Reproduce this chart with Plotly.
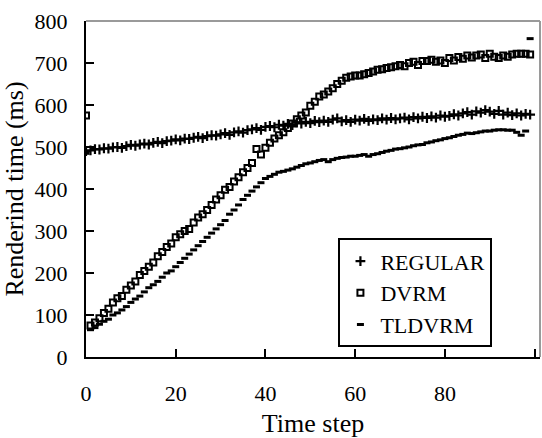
import plotly.graph_objects as go

time_steps = list(range(100))

regular = [490, 492, 495, 494, 497, 496, 499, 500, 498, 502,
           505, 503, 506, 508, 506, 510, 512, 509, 514, 515,
           518, 516, 520, 519, 522, 524, 521, 526, 528, 527,
           530, 533, 529, 535, 537, 534, 540, 542, 545, 541,
           548, 550, 547, 553, 551, 555, 552, 558, 556, 560,
           557, 562, 559, 563, 560, 565, 568, 561, 564, 560,
           565, 563, 567, 562, 566, 564, 568, 565, 569, 566,
           568, 570, 566, 571, 568, 572, 569, 573, 570, 575,
           572, 574, 578, 575, 580, 583, 577, 585, 582, 588,
           584, 579, 586, 577, 582, 576, 580, 575, 579, 577]

dvrm = [575, 75, 82, 92, 105, 115, 130, 140, 145, 160,
        170, 180, 195, 205, 215, 225, 240, 250, 262, 270,
        285, 292, 300, 305, 320, 332, 340, 350, 362, 375,
        385, 398, 405, 418, 428, 440, 450, 462, 495, 482,
        498, 510, 520, 528, 535, 545, 556, 566, 575, 582,
        598, 608, 620, 625, 632, 640, 650, 658, 665, 668,
        670, 670, 673, 676, 680, 684, 685, 688, 690, 692,
        695, 692, 700, 703, 695, 705, 705, 708, 703, 706,
        700, 712, 706, 714, 710, 718, 713, 718, 720, 712,
        722, 715, 712, 718, 715, 720, 722, 722, 722, 720]

tldvrm = [485, 65, 70, 78, 85, 90, 100, 105, 112, 120,
          130, 138, 145, 155, 165, 172, 180, 190, 200, 205,
          215, 225, 235, 245, 255, 265, 275, 285, 295, 305,
          315, 325, 340, 350, 362, 375, 385, 395, 405, 415,
          425, 430, 435, 440, 442, 445, 448, 452, 456, 460,
          462, 465, 468, 470, 465, 470, 473, 475, 476, 478,
          478, 480, 482, 478, 482, 484, 487, 490, 492, 495,
          496, 498, 500, 503, 505, 506, 510, 512, 515, 517,
          520, 522, 525, 528, 530, 533, 532, 534, 536, 538,
          538, 540, 541, 541, 540, 540, 535, 528, 538, 758]

x_ticks = [0, 20, 40, 60, 80, 100]
x_tick_labels = ["0", "20", "40", "60", "80", ""]
y_ticks = [0, 100, 200, 300, 400, 500, 600, 700, 800]

FONT = "Liberation Serif"
FS = 22

fig = go.Figure()
fig.add_trace(go.Scatter(
    x=time_steps, y=regular, mode="markers", name="REGULAR",
    marker=dict(symbol="cross-thin", size=7, color="black",
                line=dict(width=2.2, color="black"))))
fig.add_trace(go.Scatter(
    x=time_steps, y=dvrm, mode="markers", name="DVRM",
    marker=dict(symbol="square-open", size=6, color="black",
                line=dict(width=2, color="black"))))
fig.add_trace(go.Scatter(
    x=time_steps, y=tldvrm, mode="markers", name="TLDVRM",
    marker=dict(symbol="line-ew", size=5, color="black",
                line=dict(width=3, color="black"))))

# gray top and right frame
fig.add_shape(type="line", xref="paper", yref="paper", x0=0, x1=1, y0=1, y1=1,
              line=dict(color="#9a9a9a", width=2))
fig.add_shape(type="line", xref="paper", yref="paper", x0=1, x1=1, y0=0, y1=1,
              line=dict(color="#9a9a9a", width=2))

fig.update_layout(
    width=542, height=438,
    margin=dict(l=86, r=2, t=21, b=81, autoexpand=False),
    paper_bgcolor="white", plot_bgcolor="white",
    font=dict(family=FONT, size=FS, color="black"),
    showlegend=True,
    legend=dict(x=0.556, y=0.353, xanchor="left", yanchor="top",
                bordercolor="black", borderwidth=2, bgcolor="white",
                font=dict(family=FONT, size=FS, color="black")),
    xaxis=dict(range=[0, 101.2], tickmode="array", tickvals=x_ticks,
               ticktext=x_tick_labels, ticks="inside", ticklen=8, tickwidth=2,
               tickcolor="black", showline=True, linecolor="black", linewidth=2,
               showgrid=False, zeroline=False, ticklabelstandoff=16,
               automargin=False,
               title=dict(text="Time step", standoff=14)),
    yaxis=dict(range=[0, 800], tickmode="array", tickvals=y_ticks,
               ticks="inside", ticklen=8, tickwidth=2, tickcolor="black",
               showline=True, linecolor="black", linewidth=2,
               showgrid=False, zeroline=False, ticklabelstandoff=12,
               automargin=False,
               title=dict(text="Renderind time (ms)", standoff=11)),
)

fig.write_html("out.html",
               config={"displayModeBar": False},
               post_script="document.body.style.margin='0';document.body.style.overflow='hidden';")
